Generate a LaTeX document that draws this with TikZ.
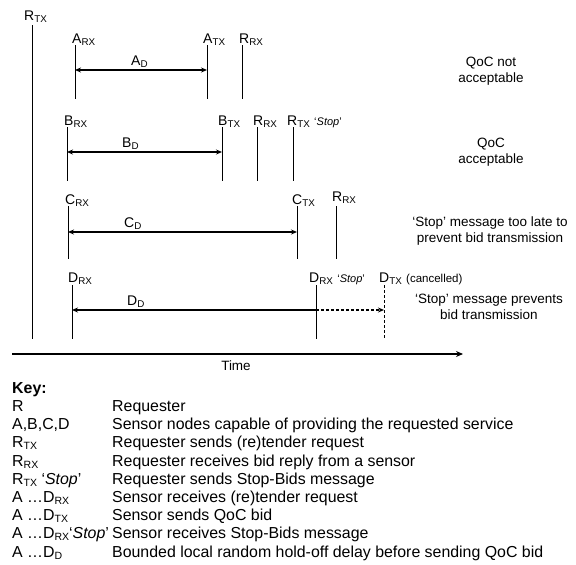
\documentclass[tikz,border=0pt]{standalone}
\usepackage{fontspec}
\setmainfont{Liberation Sans}
\usetikzlibrary{arrows.meta}
\newcommand\sbx[1]{\textsubscript{#1}}
\newcommand\ksb[1]{\raisebox{-0.25ex}{\fontsize{10.5}{11}\selectfont #1}}
\begin{document}
\begin{tikzpicture}[x=1pt,y=-1pt,
  tick/.style={line width=0.9pt},
  lab/.style={anchor=base west,inner sep=0pt,font=\fontsize{14}{16}\selectfont},
  durlab/.style={anchor=base west,inner sep=0pt,font=\fontsize{14}{16}\selectfont},
  dur/.style={line width=1.3pt,{Stealth[length=6pt,width=5pt]}-{Stealth[length=6pt,width=5pt]}},
  note/.style={align=center,font=\fontsize{13.5}{16}\selectfont,inner sep=0pt},
  keyt/.style={anchor=base west,inner sep=0pt,font=\fontsize{15.9}{18}\selectfont}]
\useasboundingbox (0,0) rectangle (576,565);

% Requester transmit line
\coordinate (rtxT) at (32,25); \coordinate (rtxB) at (32,339);
\draw[tick] (rtxT) -- (rtxB);
\node[lab] (rtxL) at (24,20) {R\sbx{TX}};

% Row A
\coordinate (arxT) at (75,45); \coordinate (arxB) at (75,99);
\coordinate (atxT) at (207,45); \coordinate (atxB) at (207,99);
\coordinate (rrxaT) at (242,45); \coordinate (rrxaB) at (242,99);
\coordinate (adL) at (75,70); \coordinate (adR) at (207,70);
\draw[tick] (arxT) -- (arxB);
\draw[tick] (atxT) -- (atxB);
\draw[tick] (rrxaT) -- (rrxaB);
\draw[dur] (adL) -- (adR);
\node[lab] (arxL) at (72,43) {A\sbx{RX}};
\node[lab] (atxL) at (203,43) {A\sbx{TX}};
\node[lab] (rrxaL) at (239,43) {R\sbx{RX}};
\node[durlab] (adLab) at (131,65) {A\sbx{D}};
\node[note] (noteA) at (491,71) {QoC not\\acceptable};

% Row B
\coordinate (brxT) at (67,127); \coordinate (brxB) at (67,181);
\coordinate (btxT) at (222,127); \coordinate (btxB) at (222,181);
\coordinate (rrxbT) at (257,127); \coordinate (rrxbB) at (257,181);
\coordinate (rstT) at (293,127); \coordinate (rstB) at (293,181);
\coordinate (bdL) at (67,152); \coordinate (bdR) at (222,152);
\draw[tick] (brxT) -- (brxB);
\draw[tick] (btxT) -- (btxB);
\draw[tick] (rrxbT) -- (rrxbB);
\draw[tick] (rstT) -- (rstB);
\draw[dur] (bdL) -- (bdR);
\node[lab] (brxL) at (64,125) {B\sbx{RX}};
\node[lab] (btxL) at (218,125) {B\sbx{TX}};
\node[lab] (rrxbL) at (253,125) {R\sbx{RX}};
\node[lab] (rstL) at (287,125) {R\sbx{TX} {\fontsize{11}{12}\selectfont`\textit{Stop}'}};
\node[durlab] (bdLab) at (122,147) {B\sbx{D}};
\node[note] (noteB) at (491,152) {QoC\\acceptable};

% Row C
\coordinate (crxT) at (68,206); \coordinate (crxB) at (68,259);
\coordinate (ctxT) at (297,206); \coordinate (ctxB) at (297,259);
\coordinate (rrxcT) at (336,206); \coordinate (rrxcB) at (336,259);
\coordinate (cdL) at (68,232); \coordinate (cdR) at (297,232);
\draw[tick] (crxT) -- (crxB);
\draw[tick] (ctxT) -- (ctxB);
\draw[tick] (rrxcT) -- (rrxcB);
\draw[dur] (cdL) -- (cdR);
\node[lab] (crxL) at (65,204) {C\sbx{RX}};
\node[lab] (ctxL) at (292,204) {C\sbx{TX}};
\node[lab] (rrxcL) at (332,201) {R\sbx{RX}};
\node[durlab] (cdLab) at (124,227) {C\sbx{D}};
\node[note] (noteC) at (490,231) {`Stop' message too late to\\prevent bid transmission};

% Row D
\coordinate (drxT) at (72,285); \coordinate (drxB) at (72,339);
\coordinate (dstT) at (316,285); \coordinate (dstB) at (316,339);
\coordinate (dtxT) at (384,285); \coordinate (dtxB) at (384,339);
\coordinate (ddL) at (72,310); \coordinate (ddM) at (316,310); \coordinate (ddR) at (384,310);
\draw[tick] (drxT) -- (drxB);
\draw[tick] (dstT) -- (dstB);
\draw[tick,dashed,dash pattern=on 3pt off 2pt] (dtxT) -- (dtxB);
\draw[line width=1.3pt,{Stealth[length=6pt,width=5pt]}-] (ddL) -- (ddM);
\draw[line width=1.1pt,dash pattern=on 3pt off 2pt,-{Stealth[length=6pt,width=5pt]}] (ddM) -- (ddR);
\node[lab] (drxL) at (68,282) {D\sbx{RX}};
\node[lab] (dstL) at (309,282) {D\sbx{RX} {\fontsize{11}{12}\selectfont`\textit{Stop}'}};
\node[lab] (dtxL) at (379,282) {D\sbx{TX} {\fontsize{11.5}{12}\selectfont(cancelled)}};
\node[durlab] (ddLab) at (127,305) {D\sbx{D}};
\node[note] (noteD) at (489,307) {`Stop' message prevents\\bid transmission};

% Time axis
\coordinate (t0) at (12,354); \coordinate (t1) at (463,354);
\draw[line width=1.8pt,-{Stealth[length=7pt,width=6pt]}] (t0) -- (t1);
\node[note] (timeL) at (236,366) {Time};

% Key
\node[keyt,font=\fontsize{15.9}{18}\selectfont\bfseries] (keyH) at (12,393) {Key:};
\node[keyt] (k1a) at (12,411) {R};
\node[keyt] (k1b) at (112,411) {Requester};
\node[keyt] (k2a) at (12,429) {A,B,C,D};
\node[keyt] (k2b) at (112,429) {Sensor nodes capable of providing the requested service};
\node[keyt] (k3a) at (12,447) {R\ksb{TX}};
\node[keyt] (k3b) at (112,447) {Requester sends (re)tender request};
\node[keyt] (k4a) at (12,466) {R\ksb{RX}};
\node[keyt] (k4b) at (112,466) {Requester receives bid reply from a sensor};
\node[keyt] (k5a) at (12,484) {R\ksb{TX} `\textit{Stop}'};
\node[keyt] (k5b) at (112,484) {Requester sends Stop-Bids message};
\node[keyt] (k6a) at (12,502) {A …D\ksb{RX}};
\node[keyt] (k6b) at (112,502) {Sensor receives (re)tender request};
\node[keyt] (k7a) at (12,520) {A …D\ksb{TX}};
\node[keyt] (k7b) at (112,520) {Sensor sends QoC bid};
\node[keyt] (k8a) at (12,538) {A …D\ksb{RX}`\textit{Stop}'};
\node[keyt] (k8b) at (112,538) {Sensor receives Stop-Bids message};
\node[keyt] (k9a) at (12,557) {A …D\ksb{D}};
\node[keyt] (k9b) at (112,557) {Bounded local random hold-off delay before sending QoC bid};
\end{tikzpicture}
\end{document}
